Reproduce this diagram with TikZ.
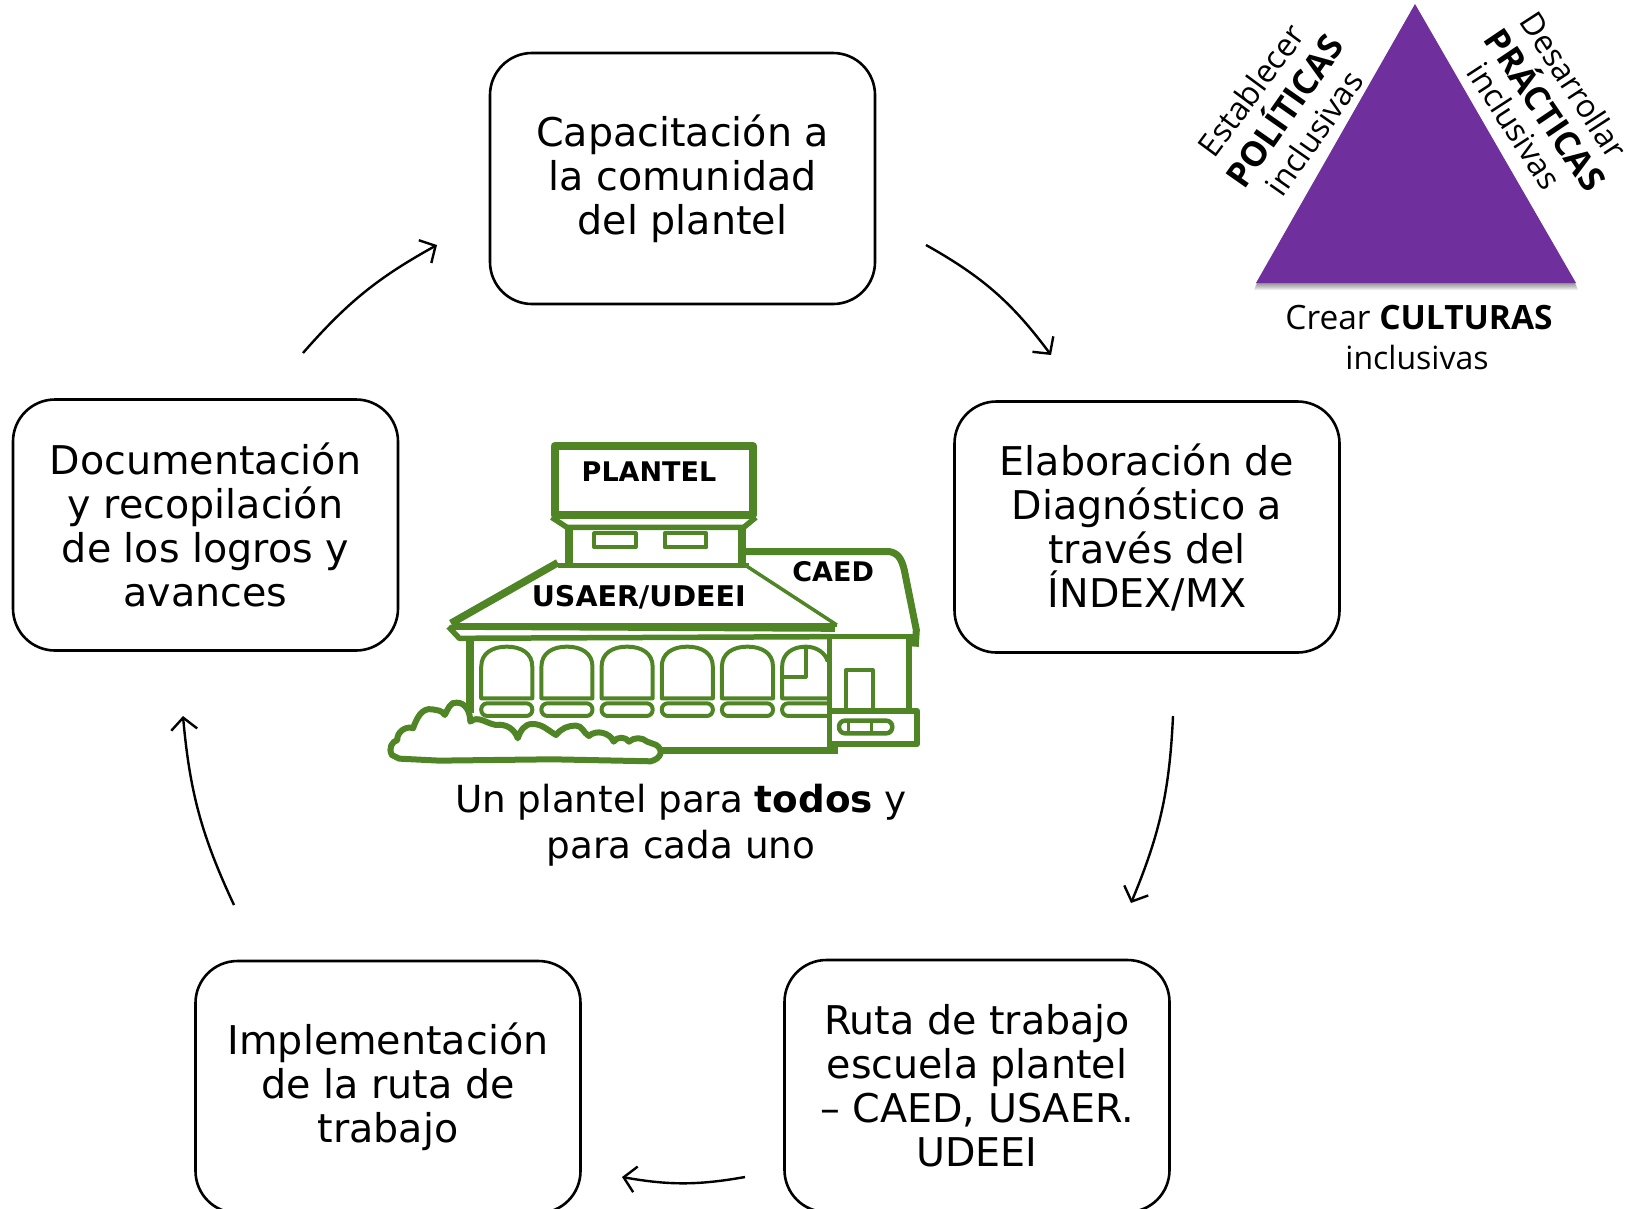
\documentclass[tikz,border=0pt]{standalone}
\usepackage{fontspec}
\setmainfont{DejaVu Sans}
\newfontfamily\trifont{Open Sans}
\usetikzlibrary{arrows.meta}
\definecolor{grn}{HTML}{4F8524}
\definecolor{purp}{HTML}{6F2F9D}
\tikzset{
 stepbox/.style={draw=black,line width=2.6pt,rounded corners=42pt,minimum width=385pt,align=center,inner sep=0pt,
   font=\fontsize{39.6}{44}\selectfont},
 cyc/.style={draw=black,line width=2.4pt,-{Straight Barb[length=12pt,width=26pt,line width=2.4pt]}},
 gl/.style={draw=grn,line width=#1,line join=round},
 gl/.default=4pt,
 blab/.style={font=\fontsize{27}{30}\bfseries\selectfont,inner sep=0pt},
 tri/.style={font=\trifont\fontsize{32}{36}\selectfont,inner sep=0pt},
 trib/.style={font=\trifont\fontsize{34.5}{38}\bfseries\selectfont,inner sep=0pt},
}
\begin{document}
\begin{tikzpicture}[x=1pt,y=-1pt]
\useasboundingbox (0,0) rectangle (1629,1208);
% boxes
\node[stepbox,minimum height=251pt] (cap) at (682.5,178.5) {Capacitación a\\la comunidad\\del plantel};
\node[stepbox,minimum height=251pt] (doc) at (205.5,525) {Documentación\\y recopilación\\de los logros y\\avances};
\node[stepbox,minimum height=251pt] (ela) at (1147,527) {Elaboración de\\Diagnóstico a\\través del\\ÍNDEX/MX};
\node[stepbox,minimum height=252pt] (imp) at (388,1087) {Implementación\\de la ruta de\\trabajo};
\node[stepbox,minimum height=252pt] (rut) at (977,1086) {Ruta de trabajo\\escuela plantel\\– CAED, USAER.\\UDEEI};
% arrows
\coordinate (a1s) at (926,245); \coordinate (a1e) at (1051,355);
\coordinate (a2s) at (1173,716); \coordinate (a2e) at (1131,903);
\coordinate (a3s) at (745,1177); \coordinate (a3e) at (622,1177);
\coordinate (a4s) at (234,905); \coordinate (a4e) at (183,716);
\coordinate (a5s) at (303,353); \coordinate (a5e) at (437,245);
\draw[cyc] (a1s) to[bend left=12] (a1e);
\draw[cyc] (a2s) to[bend left=10] (a2e);
\draw[cyc] (a3s) to[bend left=10] (a3e);
\draw[cyc] (a4s) to[bend left=10] (a4e);
\draw[cyc] (a5s) to[bend left=10] (a5e);
% building
\begin{scope}[shift={(370,420)},x=0.3647pt,y=-0.3333pt]
 % wing
 \draw[gl=7pt] (1030,395) -- (1425,395) .. controls (1450,400) and (1458,420) .. (1465,450) -- (1498,630) -- (1495,680);
 \draw[gl=5.5pt] (1262,650) -- (1498,650);
 \draw[gl=6pt] (1478,650) -- (1478,870);
 \draw[gl=4pt] (1306,870) -- (1306,750) -- (1378,750) -- (1378,870);
 \draw[gl=6pt] (1262,872) -- (1500,872) -- (1500,972) -- (1262,972);
 \draw[gl=4.5pt,rounded corners=6pt] (1286,902) rectangle (1432,940);
 \draw[gl=3pt] (1312,902) -- (1312,940) (1375,902) -- (1375,940);
 % tower
 \draw[gl=8pt] (506,78) rectangle (1050,284);
 \draw[gl=5.5pt] (498,292) -- (540,322) -- (1025,322) -- (1058,292);
 \draw[gl=8pt] (546,322) -- (546,430);
 \draw[gl=7.5pt] (1020,322) -- (1020,430);
 \draw[gl=4pt] (615,340) rectangle (728,382);
 \draw[gl=4pt] (808,340) rectangle (922,382);
 % roof
 \draw[gl=5pt] (515,436) -- (1040,436);
 \draw[gl=7.5pt] (515,428) -- (222,610);
 \draw[gl=3.5pt] (1035,440) -- (1280,615);
 \draw[gl=3.5pt] (228,615) -- (1280,615);
 \draw[gl=5pt] (218,622) -- (1275,628);
 \draw[gl=5.5pt] (215,620) -- (245,655) -- (1262,650);
 % walls
 \draw[gl=8pt] (275,650) -- (275,880);
 \draw[gl=5.5pt] (1260,650) -- (1260,1000);
 % windows
 \foreach \i in {0,1,2,3,4}{
  \pgfmathsetmacro{\xa}{305+165*\i}
  \pgfmathsetmacro{\xb}{445+165*\i}
  \pgfmathsetmacro{\xm}{375+165*\i}
  \draw[gl=4pt] (\xa,835) -- (\xa,740) .. controls (\xa,700) and ({\xa+30},680) .. (\xm,680)
    .. controls ({\xb-30},680) and (\xb,700) .. (\xb,740) -- (\xb,835) -- cycle;
  \draw[gl=4pt,rounded corners=6pt] (\xa,850) rectangle (\xb,888);
 }
 \draw[gl=4pt] (1255,835) -- (1130,835) -- (1130,740) .. controls (1130,700) and (1160,680) .. (1195,680)
    .. controls (1225,680) and (1250,700) .. (1255,725);
 \draw[gl=4pt] (1195,682) -- (1195,770) -- (1130,770);
 \draw[gl=4pt,rounded corners=6pt] (1255,850) -- (1130,850) -- (1130,888) -- (1255,888);
 % ground line
 \draw[gl=6.5pt] (780,992) -- (1282,992);
 % bush
 \draw[gl=6pt,fill=white] (60,1005) .. controls (50,985) and (60,965) .. (75,960)
   to[bend left=60] (118,925) to[out=70,in=170] (170,868) to[out=-10,in=120] (205,885)
   to[out=60,in=170] (238,848) to[out=0,in=90] (275,905) to[out=40,in=170] (345,915)
   to[bend left=40] (405,955) to[out=70,in=180] (445,912) to[out=0,in=150] (510,945)
   to[out=50,in=180] (565,917) to[out=0,in=150] (600,948) to[bend left=55] (668,965)
   to[bend left=60] (710,965) to[bend left=40] (760,965) -- (785,975)
   .. controls (805,990) and (800,1015) .. (770,1024) -- (500,1018) -- (190,1022) -- (80,1016) -- cycle;
 \node[blab] (plan) at (765,155) {PLANTEL};
 \node[blab] (caed) at (1270,455) {CAED};
 \node[blab,font=\fontsize{28.5}{30}\bfseries\selectfont] (usa) at (737,532) {USAER/UDEEI};
\end{scope}
\node[font=\fontsize{37.3}{46}\selectfont,align=center,inner sep=0pt] (lem) at (681,825) {Un plantel para \textbf{todos} y\\para cada uno};
% triangle
\foreach \d in {1,2,...,7}{
 \fill[black,opacity=0.07] (1415,{4+\d*0.5}) -- ({1576+\d*0.3},{283+\d}) -- ({1256-\d*0.3},{283+\d}) -- cycle;
}
\fill[purp] (1415,4) -- (1576,283) -- (1256,283) -- cycle;
\node[tri] (t1) at (1251,90) [rotate=53.5] {Establecer};
\node[trib] (t2) at (1282,109) [rotate=55] {POLÍTICAS};
\node[tri] (t3) at (1314,133) [rotate=55] {inclusivas};
\node[tri] (t4) at (1574,85) [rotate=-57] {Desarrollar};
\node[trib] (t5) at (1548,108) [rotate=-56] {PRÁCTICAS};
\node[tri] (t6) at (1515,126) [rotate=-57] {inclusivas};
\node[tri,font=\trifont\fontsize{33.5}{36}\selectfont] (t7) at (1419,318) {Crear \textbf{CULTURAS}};
\node[tri] (t8) at (1417,357) {inclusivas};
\end{tikzpicture}
\end{document}
